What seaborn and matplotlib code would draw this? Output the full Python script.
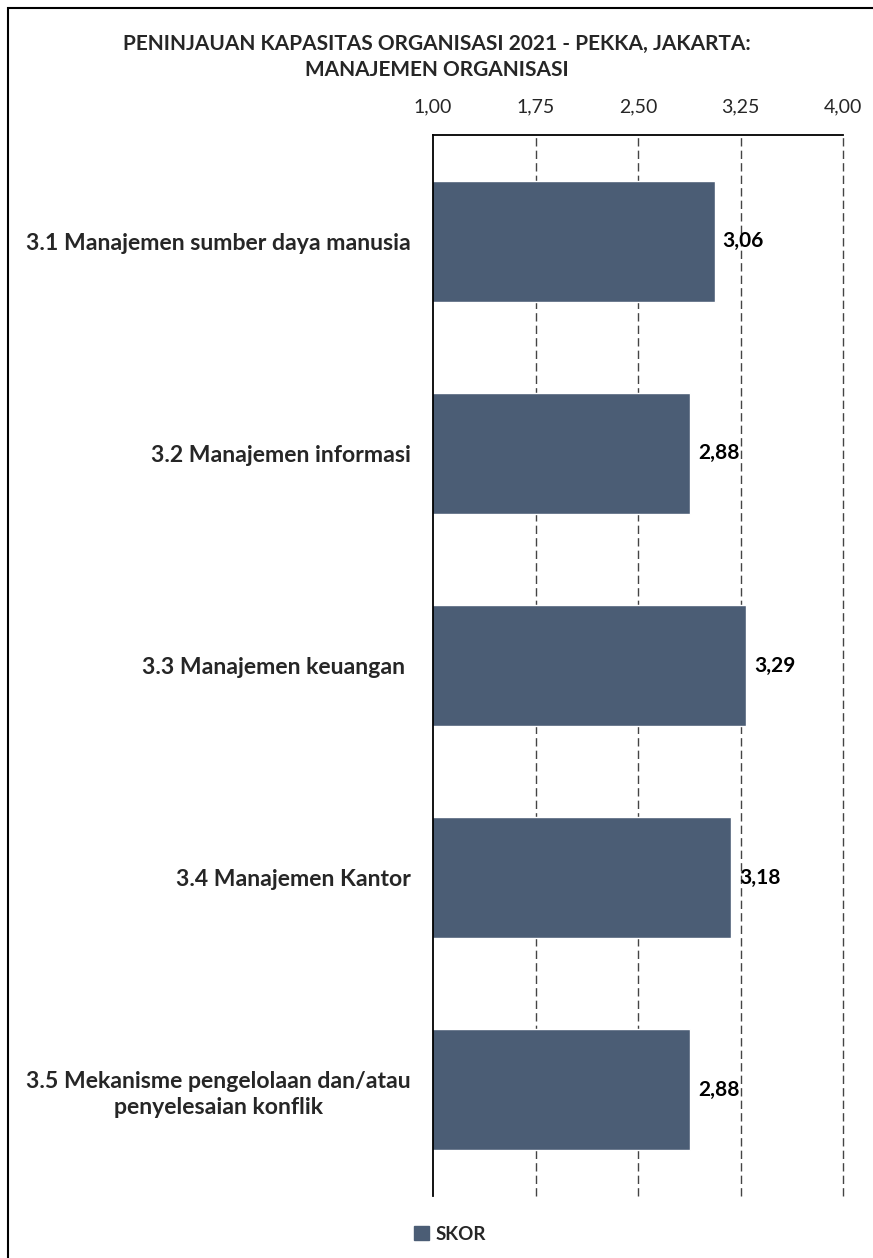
import numpy as np
import pandas as pd
import matplotlib
matplotlib.use("Agg")
import matplotlib.pyplot as plt
import matplotlib.patches as mpatches
import seaborn as sns

categories = [
    "3.1 Manajemen sumber daya manusia",
    "3.2 Manajemen informasi",
    "3.3 Manajemen keuangan ",
    "3.4 Manajemen Kantor",
    "3.5 Mekanisme pengelolaan dan/atau\npenyelesaian konflik",
]
scores = [3.06, 2.88, 3.29, 3.18, 2.88]
x_ticks = [1.00, 1.75, 2.50, 3.25, 4.00]
series_name = "SKOR"
title = "PENINJAUAN KAPASITAS ORGANISASI 2021 - PEKKA, JAKARTA:\nMANAJEMEN ORGANISASI"

bar_color = "#4b5d75"

sns.set_theme(style="white")
plt.rcParams["font.family"] = ["Lato", "DejaVu Sans"]

df = pd.DataFrame({"kategori": categories, "skor": scores})

fig = plt.figure(figsize=(8.73, 12.58), dpi=100)
ax = fig.add_axes([433 / 873, 1 - 1196 / 1258, 410 / 873, 1061 / 1258])

sns.barplot(data=df, y="kategori", x="skor", color=bar_color, width=0.57,
            saturation=1, ax=ax, orient="h")

ax.set_xlim(1.0, 4.0)
ax.set_xticks(x_ticks)
ax.set_xticklabels([f"{t:.2f}".replace(".", ",") for t in x_ticks], fontsize=14)
ax.xaxis.tick_top()
ax.tick_params(axis="x", length=0, pad=14)
ax.tick_params(axis="y", length=0, pad=16)
for lbl in ax.get_yticklabels():
    lbl.set_fontweight("bold")
    lbl.set_fontsize(16.6)
    lbl.set_multialignment("center")
    lbl.set_linespacing(1.3)
ax.set_xlabel("")
ax.set_ylabel("")

# dashed gridlines behind bars
for t in x_ticks[1:]:
    ax.axvline(t, color="#444444", linestyle=(0, (6, 3)), linewidth=1.0,
               zorder=0, clip_on=False)

for side in ["right", "bottom"]:
    ax.spines[side].set_visible(False)
ax.spines["left"].set_color("black")
ax.spines["left"].set_linewidth(1.3)
ax.spines["top"].set_color("black")
ax.spines["top"].set_linewidth(1.3)

# value labels
for i, v in enumerate(scores):
    ax.text(v + 0.06, i, f"{v:.2f}".replace(".", ","), va="center", ha="left",
            fontsize=15, fontweight="bold", color="black")

fig.text(0.5, 1 - 57 / 1258, title, ha="center", va="center", fontsize=15,
         fontweight="bold", linespacing=1.35)

handle = mpatches.Patch(color=bar_color, label=series_name)
fig.legend(handles=[handle], loc="center", bbox_to_anchor=(450 / 873, 1 - 1234 / 1258),
           frameon=False, handlelength=0.8, handleheight=0.8, handletextpad=0.3,
           prop={"weight": "bold", "size": 13.5})

# outer border
border = mpatches.Rectangle((8 / 873, -0.01), 1.0, 1 - 8 / 1258 + 0.01, transform=fig.transFigure,
                            fill=False, edgecolor="black", linewidth=1.5)
fig.patches.append(border)

fig.savefig("out.png", dpi=100)
